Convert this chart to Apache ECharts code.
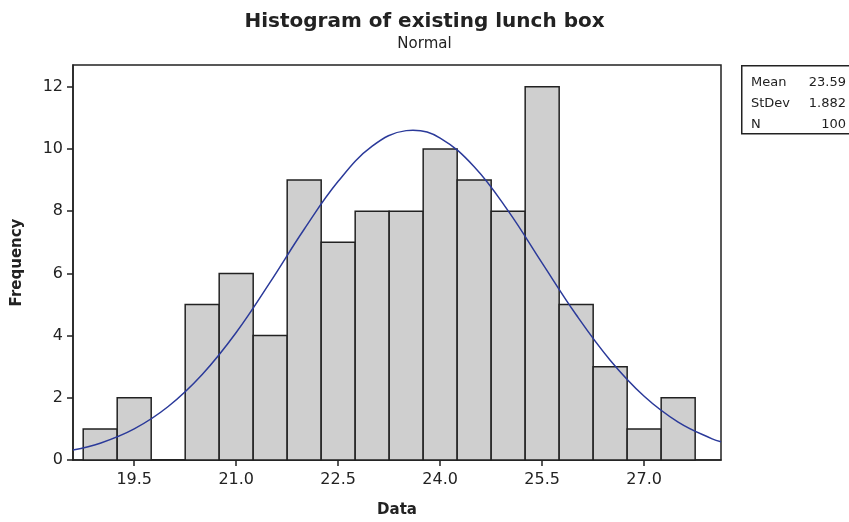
<!DOCTYPE html>
<html>
<head>
<meta charset="utf-8">
<script src="https://cdn.jsdelivr.net/npm/echarts@6/dist/echarts.min.js"></script>
<style>
  html, body { margin: 0; padding: 0; background: #fff; }
  #chart { width: 849px; height: 522px; }
</style>
</head>
<body>
<div id="chart"></div>
<script>
// histogram bins (centre of each 0.5 wide bin) and counts
var binCenters = [19.0, 19.5, 20.0, 20.5, 21.0, 21.5, 22.0, 22.5, 23.0, 23.5, 24.0, 24.5, 25.0, 25.5, 26.0, 26.5, 27.0, 27.5]
var counts = [1, 2, 0, 5, 6, 4, 9, 7, 8, 8, 10, 9, 8, 12, 5, 3, 1, 2]
var binWidth = 0.5

// fitted normal curve
var curveX = [18.6, 19.0, 19.5, 20.0, 20.5, 21.0, 21.5, 22.0, 22.5, 23.0, 23.5, 23.6, 24.0, 24.5, 25.0, 25.5, 26.0, 26.5, 27.0, 27.5, 28.0, 28.13]
var curveY = [0.32, 0.54, 1.0, 1.72, 2.75, 4.1, 5.72, 7.42, 8.96, 10.09, 10.59, 10.6, 10.35, 9.43, 8.01, 6.33, 4.67, 3.21, 2.05, 1.22, 0.68, 0.59]

var xTicks = [19.5, 21.0, 22.5, 24.0, 25.5, 27.0]
var yTicks = [0, 2, 4, 6, 8, 10, 12]

var statNames = ['Mean', 'StDev', 'N']
var statValues = ['23.59', '1.882', '100']

var font = 'DejaVu Sans'

var chart = echarts.init(document.getElementById('chart'))

var statText = []
statNames.forEach(function (name, i) {
  statText.push({
    type: 'text', left: 751, top: 76 + i * 21,
    style: { text: name, font: '13px ' + font, fill: '#222' }
  })
  statText.push({
    type: 'text', right: 3, top: 76 + i * 21,
    style: { text: statValues[i], font: '13px ' + font, fill: '#222', textAlign: 'right' }
  })
})

chart.setOption({
  backgroundColor: '#ffffff',
  animation: false,
  title: {
    text: 'Histogram of existing lunch box',
    subtext: 'Normal',
    left: 'center',
    top: 7,
    itemGap: 5,
    textStyle: { fontFamily: font, fontSize: 20, fontWeight: 'bold', color: '#222' },
    subtextStyle: { fontFamily: font, fontSize: 15, color: '#222' }
  },
  grid: {
    left: 73, right: 128, top: 65, bottom: 62,
    outerBoundsMode: 'none',
    show: true, borderColor: '#222', borderWidth: 1.5, backgroundColor: 'transparent'
  },
  xAxis: {
    type: 'value',
    min: 18.6,
    max: 28.13,
    name: 'Data',
    nameLocation: 'middle',
    nameGap: 43,
    nameTextStyle: { fontFamily: font, fontSize: 15, fontWeight: 'bold', color: '#222' },
    axisLine: { lineStyle: { color: '#222', width: 1.5 } },
    axisTick: { show: true, length: 6, customValues: xTicks, lineStyle: { color: '#222', width: 1.5 } },
    axisLabel: {
      customValues: xTicks, fontFamily: font, fontSize: 16, color: '#222', margin: 12,
      formatter: function (v) { return v.toFixed(1) }
    },
    splitLine: { show: false }
  },
  yAxis: {
    type: 'value',
    min: 0,
    max: 12.7,
    name: 'Frequency',
    nameLocation: 'middle',
    nameGap: 48,
    nameRotate: 90,
    nameTextStyle: { fontFamily: font, fontSize: 15, fontWeight: 'bold', color: '#222' },
    axisLine: { show: true, lineStyle: { color: '#222', width: 1.5 } },
    axisTick: { show: true, length: 6, customValues: yTicks, lineStyle: { color: '#222', width: 1.5 } },
    axisLabel: { customValues: yTicks, fontFamily: font, fontSize: 16, color: '#222', margin: 10 },
    splitLine: { show: false }
  },
  graphic: [
    {
      type: 'rect', left: 741, top: 65,
      shape: { width: 120, height: 68 },
      style: { fill: '#fff', stroke: '#222', lineWidth: 1.5 }
    }
  ].concat(statText),
  series: [
    {
      type: 'custom',
      data: binCenters.map(function (c, i) { return [c, counts[i]] }),
      renderItem: function (params, api) {
        var c = api.value(0)
        var p0 = api.coord([c - binWidth / 2, api.value(1)])
        var p1 = api.coord([c + binWidth / 2, 0])
        return {
          type: 'rect',
          shape: { x: p0[0], y: p0[1], width: p1[0] - p0[0], height: p1[1] - p0[1] },
          style: { fill: '#cfcfcf', stroke: '#222', lineWidth: 1.5 }
        }
      },
      z: 2
    },
    {
      type: 'line',
      data: curveX.map(function (x, i) { return [x, curveY[i]] }),
      smooth: 0.4,
      showSymbol: false,
      lineStyle: { color: '#2b3a9a', width: 1.5 },
      z: 3
    }
  ]
})
</script>
</body>
</html>
